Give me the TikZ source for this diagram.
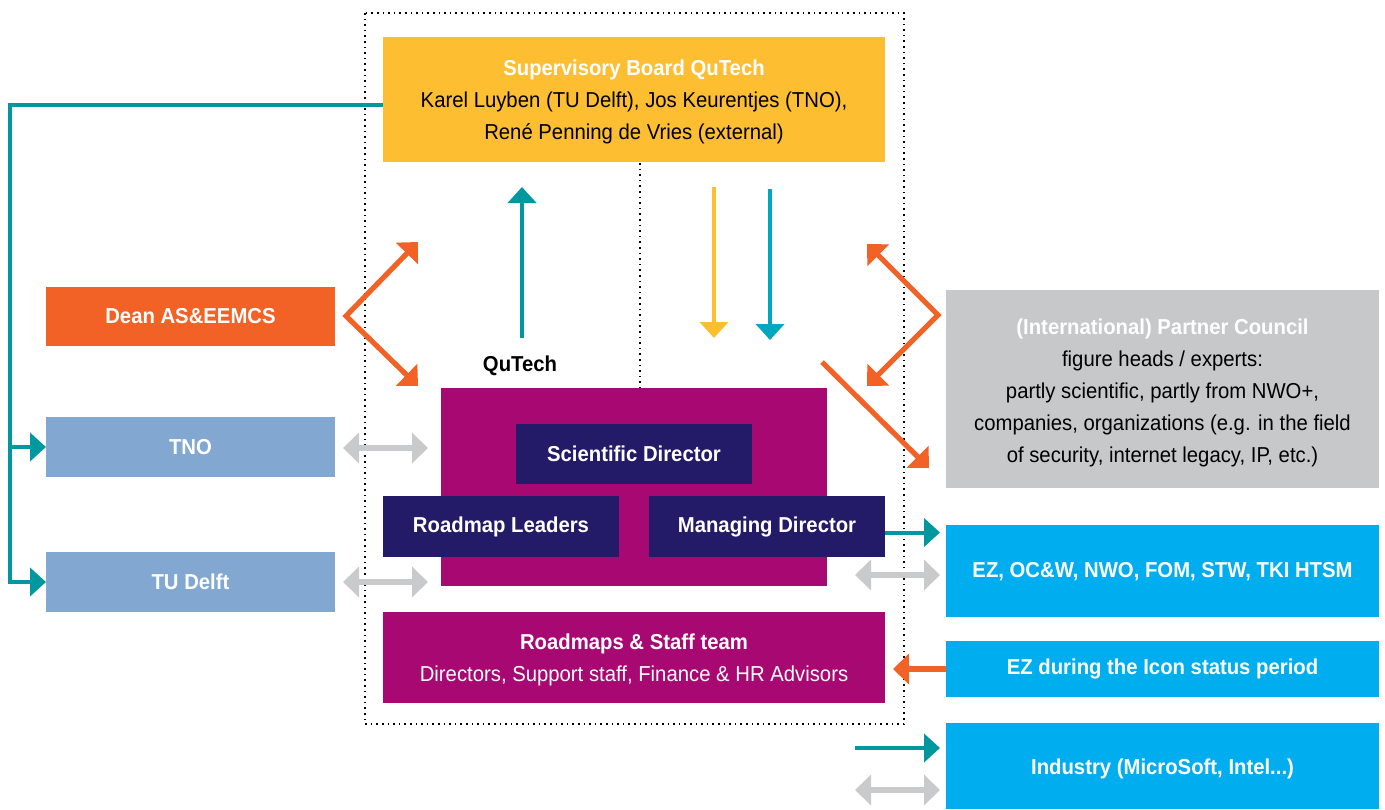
\documentclass[tikz,border=0pt]{standalone}
\usepackage{fontspec}
\setmainfont{Liberation Sans}[FakeStretch=0.94]
\usetikzlibrary{arrows.meta,fit,calc}

\definecolor{qyellow}{HTML}{FDBE31}
\definecolor{qteal}{HTML}{00989F}
\definecolor{qtealb}{HTML}{00A8BF}
\definecolor{qorange}{HTML}{F26125}
\definecolor{qblue}{HTML}{82A8D2}
\definecolor{qmagenta}{HTML}{A70871}
\definecolor{qnavy}{HTML}{231A68}
\definecolor{qgraybox}{HTML}{C7C8CA}
\definecolor{qgray}{HTML}{C9CACC}
\definecolor{qcyan}{HTML}{00AEEF}

\tikzset{
  panel/.style={inner sep=0pt, outer sep=0pt},
  label/.style={inner sep=0pt, outer sep=0pt, align=center, text=white,
              font=\fontsize{10.8}{16}\selectfont\bfseries},
  tealarr/.style={draw=qteal, line width=2pt,
                  -{Triangle[width=14pt,length=8pt]}},
  tealbarr/.style={draw=qtealb, line width=2pt,
                  -{Triangle[width=14pt,length=8pt]}},
  yellowarr/.style={draw=qyellow, line width=2pt,
                  -{Triangle[width=14pt,length=8pt]}},
  orangearr/.style={draw=qorange, line width=2.6pt, line join=miter,
                  -{Triangle[width=15pt,length=8pt]}},
  orangedbl/.style={draw=qorange, line width=2.6pt, line join=miter,
                  {Triangle[width=15pt,length=8pt]}-{Triangle[width=15pt,length=8pt]}},
  grayarr/.style={draw=qgray, line width=3.4pt,
                  {Triangle[width=15pt,length=8pt]}-{Triangle[width=15pt,length=8pt]}},
  frame/.style={draw=black, line width=0.8pt, dotted},
}

\begin{document}
\begin{tikzpicture}[x=0.5pt, y=-0.5pt]
\useasboundingbox (0,0) rectangle (1385,809);

% QuTech frame and its inner divider
\draw[frame] (365,13) rectangle (904,724);
\draw[frame] (640,163) -- (640,388);

% ---- coloured panels ----
\node[panel, fill=qyellow,   fit={(383,37)(885,162)}]   (sup)   {};
\node[panel, fill=qorange,   fit={(46,287)(335,346)}]   (dean)  {};
\node[panel, fill=qblue,     fit={(46,417)(335,477)}]   (tno)   {};
\node[panel, fill=qblue,     fit={(46,552)(335,612)}]   (tud)   {};
\node[panel, fill=qmagenta,  fit={(441,388)(827,586)}]  (qt)    {};
\node[panel, fill=qnavy,     fit={(516,424)(752,484)}]  (sci)   {};
\node[panel, fill=qnavy,     fit={(383,496)(619,557)}]  (rml)   {};
\node[panel, fill=qnavy,     fit={(649,496)(885,557)}]  (md)    {};
\node[panel, fill=qmagenta,  fit={(383,612)(885,703)}]  (staff) {};
\node[panel, fill=qgraybox,  fit={(946,290)(1379,488)}] (pc)    {};
\node[panel, fill=qcyan,     fit={(946,525)(1379,617)}] (ez)    {};
\node[panel, fill=qcyan,     fit={(946,641)(1379,697)}] (icon)  {};
\node[panel, fill=qcyan,     fit={(946,723)(1379,809)}] (ind)   {};

% ---- panel texts ----
\node[label] (supT) at ($(sup.center)+(0,2)$)
  {Supervisory Board QuTech\\
   {\mdseries\color{black}Karel Luyben (TU Delft), Jos Keurentjes (TNO),}\\
   {\mdseries\color{black}René Penning de Vries (external)}};
\node[label] (deanT) at (dean.center) {Dean AS\&EEMCS};
\node[label] (tnoT)  at (tno.center)  {TNO};
\node[label] (tudT)  at (tud.center)  {TU Delft};
\node[label] (sciT)  at (sci.center)  {Scientific Director};
\node[label] (rmlT)  at (rml.center)  {Roadmap Leaders};
\node[label] (mdT)   at (md.center)   {Managing Director};
\node[label] (staffT) at ($(staff.center)+(0,2)$)
  {Roadmaps \& Staff team\\
   {\mdseries Directors, Support staff, Finance \& HR Advisors}};
\node[label, text=black] (qlabel) at (520,366) {QuTech};
\node[label] (pcT) at ($(pc.center)+(0,4)$)
  {(International) Partner Council\\
   {\mdseries\color{black}figure heads / experts:}\\
   {\mdseries\color{black}partly scientific, partly from NWO+,}\\
   {\mdseries\color{black}companies, organizations (e.g. in the field}\\
   {\mdseries\color{black}of security, internet legacy, IP, etc.)}};
\node[label] (ezT)   at ($(ez.center)+(0,1)$)  {EZ, OC\&W, NWO, FOM, STW, TKI HTSM};
\node[label] (iconT) at (icon.center) {EZ during the Icon status period};
\node[label] (indT)  at ($(ind.center)+(0,3)$)  {Industry (MicroSoft, Intel...)};

% ---- connectors ----
% supervisory board down to the two knowledge institutes
\coordinate (busTop) at (10,105);
\coordinate (busTno) at (10,447);
\draw[tealarr, line join=miter] ($(sup.west)+(0,5.5)$) -- (busTop) -- (10,582) -- (tud.west);
\draw[tealarr] (busTno) -- (tno.west);

% dean to board and to QuTech
\coordinate (dv) at (346,316);
\coordinate (du) at (418,242);
\coordinate (dd) at (418,386);
\draw[orangedbl] (du) -- (dv) -- (dd);

% partner council to board and to QuTech
\coordinate (pv) at (938,315);
\coordinate (pu) at (867,244);
\coordinate (pd) at (867,386);
\draw[orangedbl] (pu) -- (pv) -- (pd);
\coordinate (pcFrom) at (822,362);
\coordinate (pcTo) at (929,468);
\draw[orangearr] (pcFrom) -- (pcTo);

% QuTech reporting to the board, board steering QuTech
\coordinate (upFrom) at (522,338);
\coordinate (upTo) at (522,187);
\draw[tealarr] (upFrom) -- (upTo);
\coordinate (ydFrom) at (714,187);
\coordinate (ydTo) at (714,338);
\draw[yellowarr] (ydFrom) -- (ydTo);
\coordinate (tdFrom) at (770,189);
\coordinate (tdTo) at (770,340);
\draw[tealbarr] (tdFrom) -- (tdTo);

% exchanges with TNO and TU Delft
\draw[grayarr] ($(tno.east)+(8,1)$) -- ($(qt.west |- tno.east)+(-13,1)$);
\draw[grayarr] ($(tud.east)+(8,0)$) -- ($(qt.west |- tud.east)+(-13,0)$);

% right-hand relations
\draw[tealarr] ($(md.east)+(0,6)$) -- ($(ez.west |- md.east)+(-6,6)$);
\draw[grayarr] ($(ez.west)+(-91,4)$) -- ($(ez.west)+(-6,4)$);
\draw[orangearr] (icon.west) -- ($(staff.east |- icon.west)+(8,0)$);
\draw[tealarr] ($(ind.west)+(-91,-18)$) -- ($(ind.west)+(-6,-18)$);
\draw[grayarr] ($(ind.west)+(-91,24)$) -- ($(ind.west)+(-6,24)$);
\end{tikzpicture}
\end{document}
